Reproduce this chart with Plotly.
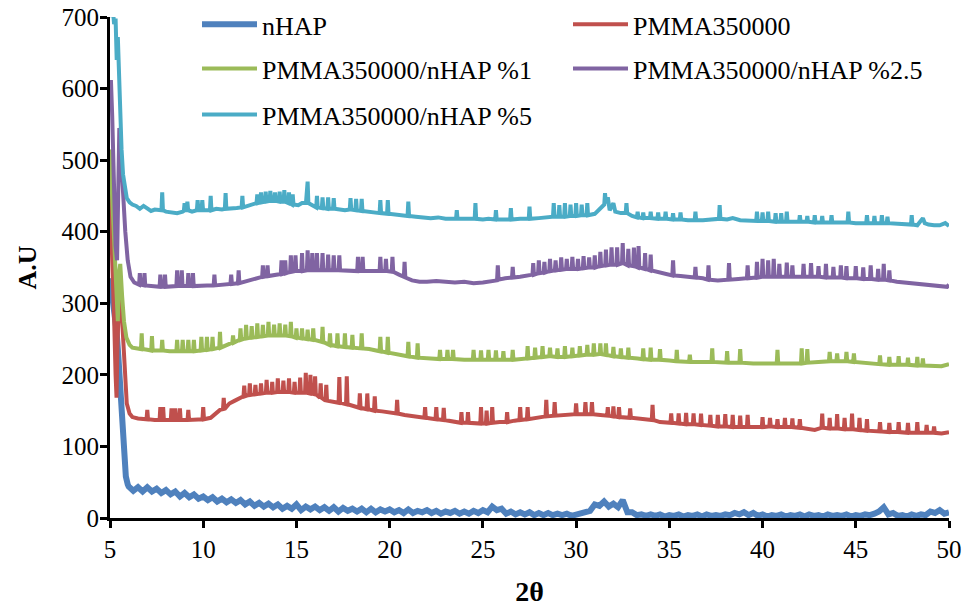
import plotly.graph_objects as go

# ---------------- data (2θ, intensity) ----------------
series_names = ["nHAP", "PMMA350000", "PMMA350000/nHAP %1",
                "PMMA350000/nHAP %2.5", "PMMA350000/nHAP %5"]
series_colors = ["#4F81BD", "#C0504D", "#9BBB59", "#8064A2", "#4BACC6"]
series_widths = [6, 4, 4, 4, 4]

nhap_pts = [
    (5.0, 335), (5.08, 320), (5.15, 305), (5.25, 290), (5.35, 262), (5.45, 225),
    (5.55, 180), (5.65, 130), (5.75, 85), (5.85, 58), (5.95, 47),
    (6.0, 44), (6.25, 38), (6.5, 43), (6.75, 37), (7.0, 43), (7.25, 37), (7.5, 41), (7.75, 35), (8.0, 39),
    (8.25, 33), (8.5, 37), (8.75, 30), (9.0, 35), (9.25, 29), (9.5, 33), (9.75, 27), (10.0, 30),
    (10.25, 25), (10.5, 29), (10.75, 23), (11.0, 27), (11.25, 22), (11.5, 26), (11.75, 21), (12.0, 25),
    (12.25, 19), (12.5, 23), (12.75, 17), (13.0, 21), (13.25, 16), (13.5, 20), (13.75, 15), (14.0, 19),
    (14.25, 13), (14.5, 17), (14.75, 13), (15.0, 19), (15.25, 11), (15.5, 16), (15.75, 12), (16.0, 16),
    (16.25, 11), (16.5, 15), (16.75, 10), (17.0, 15), (17.25, 9), (17.5, 14), (17.75, 10), (18.0, 13),
    (18.25, 9), (18.5, 13), (18.75, 8), (19.0, 13), (19.25, 8), (19.5, 12), (19.75, 9), (20.0, 12),
    (20.25, 8), (20.5, 11), (20.75, 7), (21.0, 12), (21.25, 7), (21.5, 10), (21.75, 8), (22.0, 11),
    (22.25, 7), (22.5, 10), (22.75, 6), (23.0, 9), (23.25, 7), (23.5, 10), (23.75, 6), (24.0, 9),
    (24.25, 6), (24.5, 10), (24.75, 7), (25.0, 11), (25.25, 8), (25.5, 16), (25.75, 11), (26.0, 13),
    (26.25, 6), (26.5, 9), (26.75, 5), (27.0, 8), (27.25, 5), (27.5, 8), (27.75, 4), (28.0, 7),
    (28.25, 4), (28.5, 7), (28.75, 4), (29.0, 6), (29.25, 4), (29.5, 6), (29.75, 3), (30.0, 5),
    (30.25, 5), (30.5, 8), (30.75, 10), (31.0, 19), (31.25, 17), (31.5, 23), (31.75, 16), (32.0, 20),
    (32.25, 15), (32.5, 25), (32.75, 8), (33.0, 8), (33.25, 4), (33.5, 5), (33.75, 3), (34.0, 5),
    (34.25, 3), (34.5, 5), (34.75, 2), (35.0, 4), (35.25, 3), (35.5, 5), (35.75, 2), (36.0, 4),
    (36.25, 3), (36.5, 5), (36.75, 2), (37.0, 5), (37.25, 3), (37.5, 4), (37.75, 3), (38.0, 5),
    (38.25, 4), (38.5, 7), (38.75, 5), (39.0, 8), (39.25, 4), (39.5, 7), (39.75, 3), (40.0, 5),
    (40.25, 2), (40.5, 4), (40.75, 3), (41.0, 5), (41.25, 2), (41.5, 4), (41.75, 3), (42.0, 5),
    (42.25, 2), (42.5, 5), (42.75, 3), (43.0, 4), (43.25, 2), (43.5, 5), (43.75, 3), (44.0, 4),
    (44.25, 3), (44.5, 5), (44.75, 2), (45.0, 4), (45.25, 3), (45.5, 5), (45.75, 4), (46.0, 6),
    (46.25, 9), (46.5, 15), (46.75, 5), (47.0, 7), (47.25, 3), (47.5, 4), (47.75, 2), (48.0, 5),
    (48.25, 3), (48.5, 5), (48.75, 4), (49.0, 9), (49.25, 7), (49.5, 11), (49.75, 6), (50.0, 8),
]

pmma_pts = [
    (5.0, 455), (5.08, 400), (5.15, 340), (5.22, 280), (5.3, 200), (5.35, 168), (5.4, 240), (5.47, 320),
    (5.52, 335), (5.6, 300), (5.7, 250), (5.8, 195), (5.9, 160), (6.05, 146), (6.2, 141), (6.5, 139), (6.8, 138),
    (6.96, 138), (7.0, 151), (7.04, 138), (7.4, 137),
    (7.66, 137), (7.7, 155), (7.74, 137), (7.81, 137), (7.85, 155), (7.89, 137), (8.1, 137),
    (8.26, 137), (8.3, 153), (8.34, 137), (8.46, 137), (8.5, 153), (8.54, 137), (8.71, 137), (8.75, 153), (8.79, 137),
    (9.16, 137), (9.2, 151), (9.24, 137), (9.6, 137), (9.96, 138), (10.0, 155), (10.04, 138),
    (10.4, 140), (10.7, 146), (10.9, 151), (11.06, 152), (11.1, 168), (11.14, 152),
    (11.4, 160), (11.7, 164), (12.0, 168), (12.16, 170), (12.2, 185), (12.24, 170),
    (12.46, 172), (12.5, 188), (12.54, 172), (12.76, 173), (12.8, 186), (12.84, 173),
    (13.06, 174), (13.1, 188), (13.14, 174), (13.36, 175), (13.4, 193), (13.44, 175),
    (13.66, 175), (13.7, 190), (13.74, 175), (13.96, 176), (14.0, 195), (14.04, 176),
    (14.26, 176), (14.3, 192), (14.34, 176), (14.56, 176), (14.6, 195), (14.64, 176),
    (14.86, 175), (14.9, 190), (14.94, 175), (15.16, 175), (15.2, 196), (15.24, 175),
    (15.46, 175), (15.5, 203), (15.54, 175), (15.71, 174), (15.75, 200), (15.79, 174),
    (15.96, 173), (16.0, 198), (16.04, 173), (16.26, 168), (16.3, 188), (16.34, 168),
    (16.56, 164), (16.6, 186), (16.64, 164), (17.0, 162),
    (17.26, 161), (17.3, 197), (17.34, 161), (17.66, 159), (17.7, 198), (17.74, 159), (18.0, 157),
    (18.36, 154), (18.4, 174), (18.44, 154), (18.76, 152), (18.8, 174), (18.84, 152),
    (19.16, 150), (19.2, 170), (19.24, 150), (19.6, 149), (20.0, 148),
    (20.36, 146), (20.4, 165), (20.44, 146), (20.8, 144), (21.2, 142),
    (21.86, 140), (21.9, 155), (21.94, 140), (22.2, 139),
    (22.46, 138), (22.5, 155), (22.54, 138), (22.86, 137), (22.9, 154), (22.94, 137), (23.3, 135), (23.6, 133),
    (23.81, 133), (23.85, 148), (23.89, 133), (24.16, 133), (24.2, 148), (24.24, 133), (24.6, 132),
    (24.86, 132), (24.9, 155), (24.94, 132), (25.16, 132), (25.2, 150), (25.24, 132),
    (25.46, 133), (25.5, 155), (25.54, 133), (25.9, 134), (26.26, 134), (26.3, 148), (26.34, 134), (26.7, 136),
    (26.96, 137), (27.0, 155), (27.04, 137), (27.36, 138), (27.4, 155), (27.44, 138), (27.8, 140),
    (28.36, 142), (28.4, 165), (28.44, 142), (28.81, 143), (28.85, 162), (28.89, 143), (29.3, 144),
    (29.96, 145), (30.0, 160), (30.04, 145), (30.46, 145), (30.5, 162), (30.54, 145),
    (30.81, 145), (30.85, 162), (30.89, 145), (31.3, 144),
    (31.66, 143), (31.7, 155), (31.74, 143), (31.96, 142), (32.0, 156), (32.04, 142),
    (32.26, 141), (32.3, 155), (32.34, 141), (32.86, 140), (32.9, 153), (32.94, 140), (33.4, 139),
    (34.06, 137), (34.1, 158), (34.14, 137), (34.5, 134),
    (35.06, 133), (35.1, 146), (35.14, 133), (35.46, 132), (35.5, 146), (35.54, 132),
    (35.86, 131), (35.9, 147), (35.94, 131), (36.26, 131), (36.3, 146), (36.34, 131),
    (36.66, 130), (36.7, 146), (36.74, 130), (37.16, 129), (37.2, 144), (37.24, 129),
    (37.56, 128), (37.6, 144), (37.64, 128), (37.96, 128), (38.0, 145), (38.04, 128),
    (38.36, 127), (38.4, 144), (38.44, 127), (38.76, 127), (38.8, 143), (38.84, 127),
    (39.16, 127), (39.2, 144), (39.24, 127), (39.6, 127),
    (39.96, 127), (40.0, 141), (40.04, 127), (40.36, 128), (40.4, 140), (40.44, 128),
    (40.76, 127), (40.8, 138), (40.84, 127), (41.16, 127), (41.2, 140), (41.24, 127),
    (41.56, 127), (41.6, 139), (41.64, 127), (41.96, 126), (42.0, 138), (42.04, 126),
    (42.4, 125), (42.8, 123),
    (43.16, 126), (43.2, 146), (43.24, 126), (43.56, 125), (43.6, 140), (43.64, 125),
    (43.96, 125), (44.0, 145), (44.04, 125), (44.36, 124), (44.4, 140), (44.44, 124),
    (44.76, 124), (44.8, 146), (44.84, 124), (45.16, 123), (45.2, 140), (45.24, 123),
    (45.56, 122), (45.6, 138), (45.64, 122), (46.26, 121), (46.3, 134), (46.34, 121),
    (46.76, 120), (46.8, 133), (46.84, 120), (47.26, 120), (47.3, 134), (47.34, 120),
    (47.76, 119), (47.8, 133), (47.84, 119), (48.26, 119), (48.3, 134), (48.34, 119),
    (48.76, 119), (48.8, 130), (48.84, 119), (49.16, 119), (49.2, 128), (49.24, 119),
    (49.6, 118), (50.0, 120),
]

pmma_1_pts = [
    (5.0, 515), (5.08, 470), (5.15, 440), (5.25, 390), (5.35, 320), (5.42, 275), (5.48, 340), (5.55, 355),
    (5.65, 310), (5.75, 275), (5.88, 252), (6.05, 242), (6.2, 238), (6.5, 236),
    (6.66, 236), (6.7, 258), (6.74, 236), (7.0, 235), (7.21, 234), (7.25, 254), (7.29, 234), (7.6, 234),
    (7.76, 234), (7.8, 249), (7.84, 234), (8.2, 233),
    (8.56, 233), (8.6, 249), (8.64, 233), (8.86, 233), (8.9, 249), (8.94, 233),
    (9.16, 233), (9.2, 249), (9.24, 233), (9.46, 233), (9.5, 249), (9.54, 233),
    (9.86, 234), (9.9, 253), (9.94, 234), (10.16, 235), (10.2, 253), (10.24, 235),
    (10.46, 236), (10.5, 253), (10.54, 236), (10.86, 238), (10.9, 260), (10.94, 238), (11.3, 242),
    (11.56, 245), (11.6, 255), (11.64, 245), (11.96, 249), (12.0, 265), (12.04, 249),
    (12.26, 251), (12.3, 270), (12.34, 251), (12.56, 252), (12.6, 268), (12.64, 252),
    (12.86, 253), (12.9, 272), (12.94, 253), (13.16, 254), (13.2, 270), (13.24, 254),
    (13.46, 255), (13.5, 274), (13.54, 255), (13.76, 255), (13.8, 270), (13.84, 255),
    (14.06, 255), (14.1, 272), (14.14, 255), (14.36, 255), (14.4, 270), (14.44, 255),
    (14.66, 254), (14.7, 274), (14.74, 254), (14.96, 252), (15.0, 265), (15.04, 252),
    (15.26, 251), (15.3, 265), (15.34, 251), (15.56, 250), (15.6, 263), (15.64, 250),
    (15.86, 249), (15.9, 265), (15.94, 249), (16.36, 246), (16.4, 267), (16.44, 246),
    (16.76, 242), (16.8, 258), (16.84, 242), (17.16, 240), (17.2, 258), (17.24, 240),
    (17.56, 239), (17.6, 258), (17.64, 239), (17.96, 238), (18.0, 256), (18.04, 238),
    (18.46, 237), (18.5, 258), (18.54, 237), (18.9, 236),
    (19.46, 233), (19.5, 253), (19.54, 233), (19.86, 231), (19.9, 253), (19.94, 231), (20.3, 229),
    (20.96, 226), (21.0, 246), (21.04, 226), (21.46, 224), (21.5, 244), (21.54, 224), (22.0, 223),
    (22.66, 222), (22.7, 235), (22.74, 222), (23.06, 222), (23.1, 235), (23.14, 222),
    (23.36, 222), (23.4, 235), (23.44, 222), (24.0, 221),
    (24.46, 221), (24.5, 235), (24.54, 221), (24.86, 221), (24.9, 234), (24.94, 221),
    (25.26, 221), (25.3, 235), (25.34, 221), (25.66, 221), (25.7, 234), (25.74, 221),
    (26.06, 221), (26.1, 233), (26.14, 221), (26.56, 221), (26.6, 235), (26.64, 221), (27.0, 222),
    (27.36, 223), (27.4, 240), (27.44, 223), (27.76, 224), (27.8, 238), (27.84, 224),
    (28.16, 225), (28.2, 240), (28.24, 225), (28.56, 226), (28.6, 238), (28.64, 226),
    (28.96, 225), (29.0, 237), (29.04, 225), (29.36, 225), (29.4, 240), (29.44, 225),
    (29.76, 226), (29.8, 238), (29.84, 226), (30.16, 227), (30.2, 240), (30.24, 227),
    (30.56, 228), (30.6, 242), (30.64, 228), (30.91, 228), (30.95, 244), (30.99, 228),
    (31.26, 229), (31.3, 244), (31.34, 229), (31.56, 228), (31.6, 244), (31.64, 228),
    (31.96, 226), (32.0, 239), (32.04, 226), (32.36, 225), (32.4, 237), (32.44, 225),
    (32.76, 224), (32.8, 238), (32.84, 224), (33.3, 223),
    (33.56, 222), (33.6, 237), (33.64, 222), (33.96, 221), (34.0, 238), (34.04, 221),
    (34.46, 221), (34.5, 236), (34.54, 221), (35.0, 220),
    (35.36, 219), (35.4, 235), (35.44, 219), (36.06, 218), (36.1, 228), (36.14, 218), (36.6, 218),
    (37.26, 218), (37.3, 237), (37.34, 218), (38.06, 217), (38.1, 233), (38.14, 217),
    (38.76, 217), (38.8, 236), (38.84, 217), (39.5, 216), (40.0, 216),
    (40.76, 216), (40.8, 235), (40.84, 216), (41.3, 216),
    (42.06, 216), (42.1, 237), (42.14, 216), (42.36, 217), (42.4, 236), (42.44, 217), (43.0, 218),
    (43.56, 219), (43.6, 232), (43.64, 219), (43.96, 219), (44.0, 230), (44.04, 219),
    (44.46, 219), (44.5, 232), (44.54, 219), (44.86, 218), (44.9, 230), (44.94, 218), (45.5, 217),
    (46.26, 215), (46.3, 227), (46.34, 215), (46.76, 214), (46.8, 225), (46.84, 214),
    (47.26, 214), (47.3, 226), (47.34, 214), (47.76, 214), (47.8, 224), (47.84, 214),
    (48.26, 213), (48.3, 225), (48.34, 213), (48.56, 213), (48.6, 223), (48.64, 213),
    (49.2, 213), (49.6, 212), (50.0, 215),
]

pmma_25_pts = [
    (5.0, 580), (5.05, 612), (5.12, 560), (5.2, 470), (5.3, 380), (5.38, 360), (5.45, 470), (5.5, 545),
    (5.58, 510), (5.7, 450), (5.82, 400), (5.95, 360), (6.1, 337), (6.3, 329), (6.5, 327),
    (6.56, 326), (6.6, 342), (6.64, 326), (6.81, 325), (6.85, 342), (6.89, 325), (7.2, 324), (7.5, 323),
    (7.66, 323), (7.7, 340), (7.74, 323), (7.91, 323), (7.95, 340), (7.99, 323), (8.3, 323),
    (8.56, 324), (8.6, 346), (8.64, 324), (8.81, 324), (8.85, 346), (8.89, 324),
    (9.16, 324), (9.2, 342), (9.24, 324), (9.41, 324), (9.45, 342), (9.49, 324), (9.8, 325), (10.2, 325),
    (10.56, 325), (10.6, 340), (10.64, 325), (11.0, 326),
    (11.46, 327), (11.5, 340), (11.54, 327), (11.86, 328), (11.9, 346), (11.94, 328), (12.3, 331), (12.8, 335),
    (13.16, 337), (13.2, 353), (13.24, 337), (13.41, 338), (13.45, 353), (13.49, 338), (13.9, 340),
    (14.16, 341), (14.2, 360), (14.24, 341), (14.36, 342), (14.4, 360), (14.44, 342),
    (14.66, 344), (14.7, 367), (14.74, 344), (14.91, 345), (14.95, 367), (14.99, 345),
    (15.26, 345), (15.3, 370), (15.34, 345), (15.56, 346), (15.6, 374), (15.64, 346),
    (15.81, 346), (15.85, 370), (15.89, 346), (16.06, 346), (16.1, 370), (16.14, 346),
    (16.36, 346), (16.4, 370), (16.44, 346), (16.66, 346), (16.7, 368), (16.74, 346),
    (16.96, 346), (17.0, 367), (17.04, 346), (17.26, 346), (17.3, 367), (17.34, 346), (17.7, 346), (18.0, 345),
    (18.26, 345), (18.3, 365), (18.34, 345), (18.51, 345), (18.55, 365), (18.59, 345), (19.0, 345),
    (19.46, 345), (19.5, 365), (19.54, 345), (19.76, 345), (19.8, 362), (19.84, 345),
    (20.11, 344), (20.15, 365), (20.19, 344), (20.5, 340), (20.76, 337), (20.8, 358), (20.84, 336),
    (21.2, 332), (21.6, 330), (22.0, 330), (22.5, 331), (23.0, 330), (23.5, 329), (24.0, 330), (24.5, 328),
    (25.0, 329), (25.4, 330), (25.76, 332), (25.8, 353), (25.84, 333), (26.2, 335),
    (26.56, 336), (26.6, 351), (26.64, 336), (27.0, 337), (27.4, 338),
    (27.66, 340), (27.7, 356), (27.74, 340), (27.96, 342), (28.0, 360), (28.04, 342),
    (28.26, 343), (28.3, 358), (28.34, 343), (28.56, 345), (28.6, 362), (28.64, 345),
    (28.86, 346), (28.9, 360), (28.94, 346), (29.16, 347), (29.2, 364), (29.24, 347),
    (29.46, 348), (29.5, 362), (29.54, 348), (29.76, 348), (29.8, 365), (29.84, 348),
    (30.06, 348), (30.1, 362), (30.14, 348), (30.36, 349), (30.4, 366), (30.44, 349),
    (30.66, 350), (30.7, 364), (30.74, 350), (30.96, 350), (31.0, 367), (31.04, 350),
    (31.26, 352), (31.3, 372), (31.34, 352), (31.56, 353), (31.6, 375), (31.64, 353),
    (31.86, 354), (31.9, 378), (31.94, 354), (32.16, 354), (32.2, 378), (32.24, 354),
    (32.46, 356), (32.5, 384), (32.54, 356), (32.76, 353), (32.8, 376), (32.84, 353),
    (33.06, 352), (33.1, 378), (33.14, 352), (33.31, 350), (33.35, 380), (33.39, 350),
    (33.66, 348), (33.7, 370), (33.74, 348), (33.96, 346), (34.0, 368), (34.04, 346),
    (34.4, 344), (34.8, 341), (35.16, 339), (35.2, 360), (35.24, 339), (35.6, 338), (36.0, 337),
    (36.36, 336), (36.4, 351), (36.44, 336), (36.8, 335), (37.06, 333), (37.1, 353), (37.14, 333), (37.6, 332),
    (38.16, 333), (38.2, 356), (38.24, 333), (38.7, 334), (39.16, 335), (39.2, 353), (39.24, 335),
    (39.66, 336), (39.7, 358), (39.74, 336), (39.96, 337), (40.0, 362), (40.04, 337),
    (40.26, 337), (40.3, 360), (40.34, 337), (40.56, 337), (40.6, 362), (40.64, 337),
    (40.86, 337), (40.9, 355), (40.94, 337), (41.26, 337), (41.3, 357), (41.34, 337),
    (41.56, 337), (41.6, 353), (41.64, 337), (42.0, 337),
    (42.16, 337), (42.2, 355), (42.24, 337), (42.56, 337), (42.6, 356), (42.64, 337),
    (42.96, 337), (43.0, 352), (43.04, 337), (43.36, 336), (43.4, 355), (43.44, 336),
    (43.76, 336), (43.8, 351), (43.84, 336), (44.16, 336), (44.2, 353), (44.24, 336),
    (44.46, 335), (44.5, 352), (44.54, 335), (44.96, 335), (45.0, 352), (45.04, 335),
    (45.36, 334), (45.4, 350), (45.44, 334), (45.76, 334), (45.8, 353), (45.84, 334),
    (46.16, 333), (46.2, 348), (46.24, 333), (46.46, 333), (46.5, 355), (46.54, 333),
    (46.76, 332), (46.8, 346), (46.84, 332), (47.2, 330), (47.6, 329), (48.0, 328), (48.5, 327),
    (49.0, 326), (49.5, 324), (49.9, 323), (50.0, 326),
]

pmma_5_pts = [
    (5.0, 715), (5.08, 700), (5.15, 712), (5.22, 690), (5.3, 698), (5.36, 640), (5.42, 672), (5.5, 600),
    (5.56, 560), (5.62, 515), (5.7, 480), (5.8, 458), (5.9, 447), (6.05, 441), (6.2, 438), (6.4, 436),
    (6.6, 432), (6.8, 436), (7.0, 432), (7.2, 429), (7.4, 431), (7.6, 430),
    (7.76, 430), (7.8, 455), (7.84, 430), (8.0, 428), (8.3, 427), (8.6, 426), (8.9, 428),
    (8.96, 429), (9.0, 440), (9.04, 430), (9.11, 430), (9.15, 442), (9.19, 430), (9.4, 428),
    (9.66, 430), (9.7, 444), (9.74, 430), (9.91, 430), (9.95, 444), (9.99, 430), (10.2, 430),
    (10.36, 430), (10.4, 450), (10.44, 430), (10.7, 432), (11.0, 431),
    (11.16, 432), (11.2, 454), (11.24, 432), (11.5, 432), (11.8, 433),
    (12.06, 434), (12.1, 450), (12.14, 434), (12.4, 436), (12.7, 438),
    (12.86, 440), (12.9, 452), (12.94, 440), (13.06, 441), (13.1, 455), (13.14, 441),
    (13.31, 442), (13.35, 456), (13.39, 442), (13.56, 443), (13.6, 457), (13.64, 443),
    (13.81, 443), (13.85, 455), (13.89, 443), (14.06, 442), (14.1, 456), (14.14, 442),
    (14.31, 442), (14.35, 458), (14.39, 442), (14.56, 440), (14.6, 455), (14.64, 440),
    (14.76, 438), (14.8, 452), (14.84, 438), (15.1, 437), (15.3, 440),
    (15.51, 440), (15.55, 468), (15.6, 470), (15.64, 440), (15.9, 436),
    (16.06, 434), (16.1, 450), (16.14, 434), (16.36, 433), (16.4, 448), (16.44, 433),
    (16.66, 432), (16.7, 448), (16.74, 432), (16.96, 432), (17.0, 447), (17.04, 432),
    (17.3, 431), (17.6, 430), (17.86, 431), (17.9, 447), (17.94, 431),
    (18.16, 430), (18.2, 446), (18.24, 430), (18.46, 429), (18.5, 446), (18.54, 429),
    (18.8, 428), (19.1, 427), (19.46, 426), (19.5, 444), (19.54, 426),
    (19.86, 425), (19.9, 444), (19.94, 425), (20.3, 424), (20.6, 423),
    (20.96, 422), (21.0, 442), (21.04, 422), (21.4, 421), (21.8, 420), (22.2, 419), (22.6, 420), (23.0, 418),
    (23.56, 418), (23.6, 430), (23.64, 418), (24.0, 418), (24.56, 418), (24.6, 440), (24.64, 418),
    (25.0, 417), (25.3, 418), (25.66, 417), (25.7, 430), (25.74, 417), (26.1, 417),
    (26.46, 417), (26.5, 433), (26.54, 417), (27.0, 418), (27.46, 418), (27.5, 435), (27.54, 418),
    (28.0, 419), (28.5, 420), (28.76, 421), (28.8, 440), (28.84, 421), (29.06, 421), (29.1, 437), (29.14, 421),
    (29.36, 421), (29.4, 440), (29.44, 421), (29.66, 422), (29.7, 438), (29.74, 422),
    (29.96, 422), (30.0, 440), (30.04, 422), (30.26, 423), (30.3, 438), (30.34, 423),
    (30.56, 423), (30.6, 440), (30.64, 423), (31.0, 425), (31.3, 432),
    (31.51, 438), (31.55, 454), (31.6, 440), (31.7, 448), (31.8, 430), (32.0, 440), (32.1, 428), (32.4, 426),
    (32.66, 426), (32.7, 440), (32.74, 426), (33.0, 422),
    (33.26, 420), (33.3, 428), (33.34, 420), (33.56, 419), (33.6, 427), (33.64, 419),
    (33.96, 419), (34.0, 428), (34.04, 419), (34.36, 418), (34.4, 427), (34.44, 418),
    (34.76, 418), (34.8, 428), (34.84, 418), (35.16, 417), (35.2, 426), (35.24, 417),
    (35.56, 417), (35.6, 427), (35.64, 417), (36.0, 416), (36.36, 416), (36.4, 428), (36.44, 416),
    (36.8, 416), (37.2, 417), (37.66, 418), (37.7, 437), (37.74, 418),
    (38.1, 417), (38.4, 419), (38.8, 416), (39.2, 415),
    (39.66, 415), (39.7, 428), (39.74, 415), (39.96, 415), (40.0, 427), (40.04, 415),
    (40.26, 415), (40.3, 428), (40.34, 415), (40.66, 414), (40.7, 426), (40.74, 414),
    (40.96, 414), (41.0, 426), (41.04, 414), (41.26, 414), (41.3, 428), (41.34, 414), (41.7, 414),
    (41.96, 414), (42.0, 423), (42.04, 414), (42.36, 414), (42.4, 422), (42.44, 414),
    (42.76, 413), (42.8, 423), (42.84, 413), (43.16, 413), (43.2, 422), (43.24, 413),
    (43.66, 413), (43.7, 423), (43.74, 413), (44.1, 413), (44.56, 413), (44.6, 428), (44.64, 413),
    (45.0, 412), (45.56, 412), (45.6, 423), (45.64, 412), (45.96, 412), (46.0, 422), (46.04, 412),
    (46.36, 412), (46.4, 423), (46.44, 412), (46.66, 412), (46.7, 421), (46.74, 412),
    (47.2, 411), (47.6, 411), (47.96, 410), (48.0, 423), (48.04, 410),
    (48.3, 409), (48.6, 419), (48.7, 412), (48.9, 410), (49.2, 409), (49.5, 409), (49.8, 412), (50.0, 408),
]

x_ticks = [5, 10, 15, 20, 25, 30, 35, 40, 45, 50]
y_ticks = [0, 100, 200, 300, 400, 500, 600, 700]

all_pts = [nhap_pts, pmma_pts, pmma_1_pts, pmma_25_pts, pmma_5_pts]
legend_ids = ["legend", "legend", "legend2", "legend2", "legend3"]

FONT = "Liberation Serif, Times New Roman, serif"

fig = go.Figure()
for name, pts, color, wid, leg in zip(series_names, all_pts, series_colors, series_widths, legend_ids):
    fig.add_trace(go.Scatter(
        x=[p[0] for p in pts], y=[p[1] for p in pts],
        mode="lines", name=name, legend=leg,
        line=dict(color=color, width=wid),
    ))

def legend_row(ypos):
    return dict(orientation="h", x=0.1037, xanchor="left", y=ypos, yanchor="top",
                entrywidth=301, entrywidthmode="pixels", itemwidth=55,
                font=dict(family=FONT, size=26, color="black"),
                bgcolor="rgba(0,0,0,0)", borderwidth=0)

fig.update_layout(
    width=971, height=612,
    margin=dict(l=110, r=22, t=17, b=94, autoexpand=False),
    paper_bgcolor="white", plot_bgcolor="white",
    font=dict(family=FONT, size=25, color="black"),
    showlegend=True,
    legend=legend_row(1.032),
    legend2=legend_row(0.944),
    legend3=legend_row(0.852),
    xaxis=dict(
        range=[5, 50], tickvals=x_ticks, ticktext=[str(v) for v in x_ticks],
        showgrid=False, zeroline=False, showline=True, linecolor="black", linewidth=3,
        ticks="outside", ticklen=7, tickwidth=2.5, tickcolor="black",
        tickfont=dict(family=FONT, size=25, color="black"),
        title=dict(text="<b>2θ</b>", font=dict(family=FONT, size=28, color="black"), standoff=20),
        layer="below traces",
    ),
    yaxis=dict(
        range=[0, 700], tickvals=y_ticks, ticktext=[str(v) for v in y_ticks],
        showgrid=False, zeroline=False, showline=True, linecolor="black", linewidth=3,
        ticks="outside", ticklen=7, tickwidth=2.5, tickcolor="black", ticklabelstandoff=-4,
        tickfont=dict(family=FONT, size=25, color="black"),
        title=dict(text="<b>A.U</b>", font=dict(family=FONT, size=26, color="black"), standoff=18),
        layer="below traces",
    ),
)

fig.write_html("out.html")
